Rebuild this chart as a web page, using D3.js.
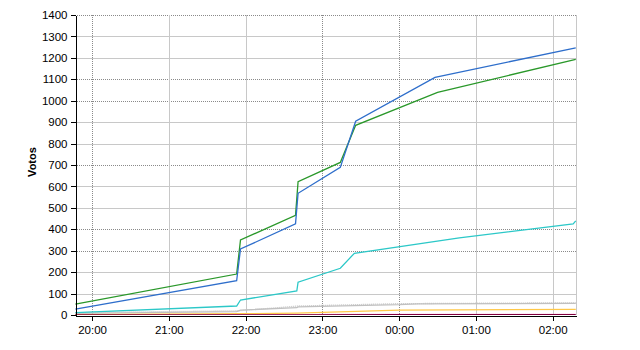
<!DOCTYPE html>
<html>
<head>
<meta charset="utf-8">
<script src="https://cdn.jsdelivr.net/npm/d3@7"></script>
<style>
  body { margin: 0; background: #fff; }
  svg { display: block; font-family: "Liberation Sans", Arial, sans-serif; }
</style>
</head>
<body>
<div id="chart"></div>
<script>
// data (times run past midnight)
const blueTimes = ["19:47", "21:53", "21:56", "22:39", "22:41", "23:14", "23:26", "00:28", "02:18"];
const blueVotes = [27, 160, 308, 425, 568, 689, 904, 1109, 1247];
const greenTimes = ["19:47", "21:53", "21:56", "22:39", "22:41", "23:14", "23:26", "00:30", "02:18"];
const greenVotes = [51, 191, 350, 465, 622, 712, 885, 1039, 1193];
const cyanTimes = ["19:47", "21:53", "21:56", "22:40", "22:41", "23:14", "23:25", "00:47", "02:16", "02:18"];
const cyanVotes = [11, 42, 70, 112, 153, 218, 288, 360, 425, 439];
const greyTimes = ["19:47", "21:53", "21:56", "22:40", "22:41", "00:00", "00:15", "02:18"];
const greyVotes = [8, 16, 23, 34, 38, 48, 52, 54];
const silverTimes = ["19:47", "21:56", "22:41", "00:00", "02:18"];
const silverVotes = [11, 20, 42, 53, 57];
const yellowTimes = ["19:47", "21:56", "22:40", "00:00", "02:18"];
const yellowVotes = [2, 6, 9, 23, 26];
const pinkTimes = ["19:47", "22:40", "00:00", "02:18"];
const pinkVotes = [1, 2, 3, 3];
const maroonTimes = ["19:47", "22:40", "00:00", "02:18"];
const maroonVotes = [0, 1, 2, 2];

const hourTicks = ["20:00", "21:00", "22:00", "23:00", "00:00", "01:00", "02:00"];
const voteTicks = d3.range(0, 1401, 100);

var width = 640, height = 350;
var margin = {left: 75, right: 64, top: 15, bottom: 35};
var x0 = margin.left, x1 = width - margin.right;
var y0 = height - margin.bottom, y1 = margin.top;

// "HH:MM" -> Date, hours before noon are on the next day
function toDate(s) {
  var p = s.split(":").map(Number);
  var day = p[0] < 12 ? 2 : 1;
  return new Date(2000, 0, day, p[0], p[1], p[2] || 0);
}

var x = d3.scaleTime()
  .domain([toDate("19:46:40"), toDate("02:18:35")])
  .range([x0, x1 + 0.5]);
var y = d3.scaleLinear().domain([0, 1400]).range([y0, y1]);

const svg = d3.select("#chart").append("svg")
  .attr("width", width).attr("height", height);

var dottedVotes = [300, 400, 700, 1000, 1100, 1400];
var dottedHours = ["20:00", "23:00", "00:00"];

// horizontal grid
svg.append("g").selectAll("line")
  .data(voteTicks.filter(v => v > 0))
  .enter().append("line")
  .attr("x1", x0).attr("x2", x1)
  .attr("y1", d => Math.round(y(d)) + 0.5)
  .attr("y2", d => Math.round(y(d)) + 0.5)
  .attr("stroke", d => dottedVotes.includes(d) ? "#8a8a8a" : "#c8c8c8")
  .attr("stroke-dasharray", d => dottedVotes.includes(d) ? "1,1" : null)
  .attr("shape-rendering", "crispEdges");

// vertical grid
svg.append("g").selectAll("line")
  .data(hourTicks)
  .enter().append("line")
  .attr("x1", d => Math.round(x(toDate(d))) + 0.5)
  .attr("x2", d => Math.round(x(toDate(d))) + 0.5)
  .attr("y1", y1).attr("y2", y0)
  .attr("stroke", d => dottedHours.includes(d) ? "#8a8a8a" : "#c8c8c8")
  .attr("stroke-dasharray", d => dottedHours.includes(d) ? "1,1" : null)
  .attr("shape-rendering", "crispEdges");

// right border
svg.append("line")
  .attr("x1", x1 + 0.5).attr("x2", x1 + 0.5)
  .attr("y1", y1).attr("y2", y0)
  .attr("stroke", "#c8c8c8")
  .attr("shape-rendering", "crispEdges");

svg.append("clipPath").attr("id", "plot")
  .append("rect").attr("x", x0).attr("y", y1 - 2)
  .attr("width", x1 - x0 + 2).attr("height", y0 - y1 + 2);

var series = [
  {times: silverTimes, votes: silverVotes, color: "#c4c4c4", dash: "1,1"},
  {times: greyTimes, votes: greyVotes, color: "#c0c0c0"},
  {times: pinkTimes, votes: pinkVotes, color: "#ff66b3", dash: "1,1"},
  {times: yellowTimes, votes: yellowVotes, color: "#ffc848"},
  {times: maroonTimes, votes: maroonVotes, color: "#800040"},
  {times: cyanTimes, votes: cyanVotes, color: "#2cc8c8"},
  {times: greenTimes, votes: greenVotes, color: "#2a982a"},
  {times: blueTimes, votes: blueVotes, color: "#2e6ecb"}
];

var line = d3.line()
  .x(d => x(d[0]))
  .y(d => y(d[1]));

svg.append("g").attr("clip-path", "url(#plot)")
  .selectAll("path")
  .data(series)
  .enter().append("path")
  .attr("d", s => line(s.times.map((t, i) => [toDate(t), s.votes[i]])))
  .attr("fill", "none")
  .attr("stroke", s => s.color)
  .attr("stroke-width", 1.3)
  .attr("stroke-dasharray", s => s.dash || null);

// axes
var yAxis = svg.append("g")
  .attr("transform", "translate(" + (x0 + 0.5) + ",0)")
  .call(d3.axisLeft(y).tickValues(voteTicks).tickFormat(d3.format("d"))
    .tickSize(5).tickPadding(3).tickSizeOuter(0));
var xAxis = svg.append("g")
  .attr("transform", "translate(0," + (y0 + 0.5) + ")")
  .call(d3.axisBottom(x).tickValues(hourTicks.map(toDate))
    .tickFormat(d3.timeFormat("%H:%M")).tickSize(5).tickPadding(5).tickSizeOuter(0));

[yAxis, xAxis].forEach(function(a) {
  a.select(".domain").attr("stroke", "#000").attr("shape-rendering", "crispEdges");
  a.selectAll(".tick line").attr("stroke", "#000").attr("shape-rendering", "crispEdges");
  a.selectAll("text").attr("fill", "#000").style("font-size", "11.5px");
});

svg.append("text")
  .attr("transform", "translate(36," + 162 + ") rotate(-90)")
  .attr("text-anchor", "middle")
  .style("font-size", "11px")
  .style("font-weight", "bold")
  .text("Votos");
</script>
</body>
</html>
